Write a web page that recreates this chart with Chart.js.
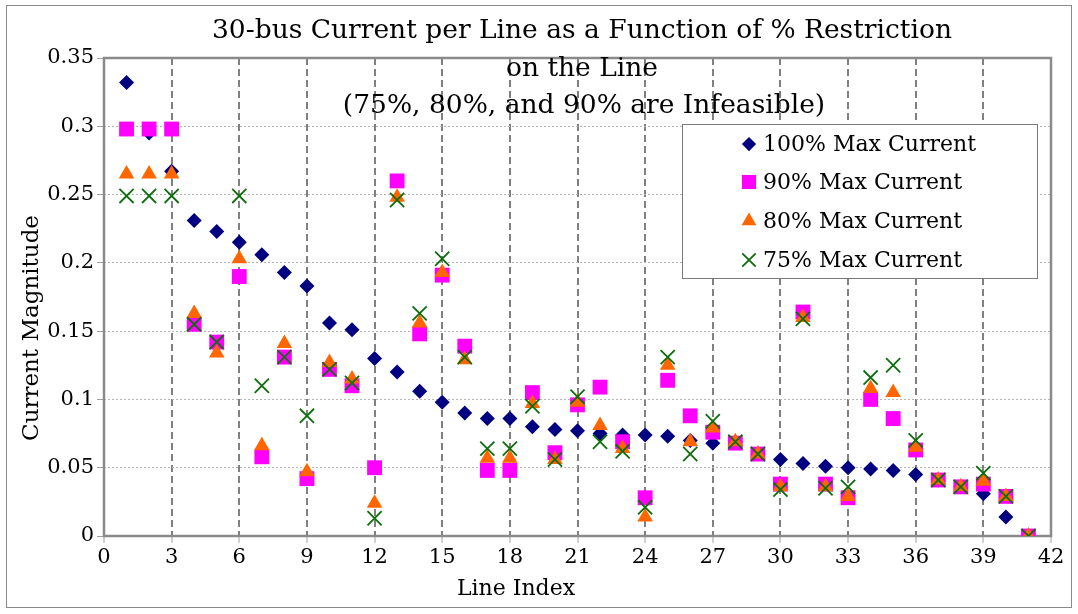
<!DOCTYPE html>
<html>
<head>
<meta charset="utf-8">
<script src="https://cdn.jsdelivr.net/npm/chart.js@4.4.1/dist/chart.umd.min.js"></script>
<style>
html, body { margin: 0; padding: 0; background: #fff; }
canvas { display: block; }
</style>
</head>
<body>
<canvas id="myChart" width="1078" height="614"></canvas>
<script>
// line index (x values)
var lineIndex = [1, 2, 3, 4, 5, 6, 7, 8, 9, 10, 11, 12, 13, 14, 15, 16, 17, 18, 19, 20,
    21, 22, 23, 24, 25, 26, 27, 28, 29, 30, 31, 32, 33, 34, 35, 36, 37, 38, 39, 40, 41];

// current magnitude per restriction level
var max100 = [0.332, 0.295, 0.267, 0.231, 0.223, 0.215, 0.206, 0.193, 0.183, 0.156,
    0.151, 0.130, 0.120, 0.106, 0.098, 0.090, 0.086, 0.086, 0.080, 0.078,
    0.077, 0.075, 0.074, 0.074, 0.073, 0.070, 0.068, 0.069, 0.060, 0.056,
    0.053, 0.051, 0.050, 0.049, 0.048, 0.045, 0.041, 0.036, 0.031, 0.014, 0.000];
var max90 = [0.298, 0.298, 0.298, 0.155, 0.142, 0.190, 0.058, 0.131, 0.042, 0.122,
    0.110, 0.050, 0.260, 0.148, 0.191, 0.139, 0.048, 0.048, 0.105, 0.061,
    0.096, 0.109, 0.069, 0.028, 0.114, 0.088, 0.076, 0.068, 0.060, 0.038,
    0.164, 0.038, 0.028, 0.100, 0.086, 0.063, 0.041, 0.036, 0.038, 0.029, 0.000];
var max80 = [0.265, 0.265, 0.265, 0.163, 0.134, 0.203, 0.066, 0.141, 0.047, 0.127,
    0.115, 0.024, 0.248, 0.156, 0.193, 0.129, 0.057, 0.057, 0.097, 0.056,
    0.098, 0.081, 0.064, 0.014, 0.125, 0.069, 0.079, 0.069, 0.060, 0.036,
    0.160, 0.036, 0.029, 0.108, 0.105, 0.065, 0.041, 0.036, 0.040, 0.029, 0.000];
var max75 = [0.249, 0.249, 0.249, 0.155, 0.142, 0.249, 0.110, 0.131, 0.088, 0.122,
    0.112, 0.013, 0.246, 0.163, 0.203, 0.131, 0.064, 0.064, 0.095, 0.056,
    0.102, 0.069, 0.062, 0.021, 0.131, 0.060, 0.084, 0.069, 0.060, 0.034,
    0.159, 0.035, 0.036, 0.116, 0.125, 0.070, 0.041, 0.036, 0.046, 0.029, 0.000];

var seriesNames = ['100% Max Current', '90% Max Current', '80% Max Current', '75% Max Current'];
var titleLines = ['30-bus Current per Line as a Function of % Restriction', 'on the Line',
    '(75%, 80%, and 90% are Infeasible)'];
var yTickLabels = ['0', '0.05', '0.1', '0.15', '0.2', '0.25', '0.3', '0.35'];

var serif = "'DejaVu Serif', serif";

function points(vals) {
    return lineIndex.map(function (x, i) { return { x: x, y: vals[i] }; });
}

var styles = [
    { pointStyle: 'rectRot', color: '#000080', radius: 7.5, border: 0 },
    { pointStyle: 'rect', color: '#FF00FF', radius: 10.5, border: 0 },
    { pointStyle: 'triangle', color: '#FF6600', radius: 9, border: 0 },
    { pointStyle: 'crossRot', color: '#0B6E0B', radius: 10, border: 1.8 }
];

var datasets = [max100, max90, max80, max75].map(function (vals, i) {
    var s = styles[i];
    return {
        label: seriesNames[i],
        data: points(vals),
        pointStyle: s.pointStyle,
        pointRadius: s.radius,
        pointHoverRadius: s.radius,
        backgroundColor: s.color,
        borderColor: s.color,
        borderWidth: s.border,
        order: 4 - i
    };
});

// frame, titles and the boxed legend like the original
var decor = {
    id: 'decor',
    beforeDatasetsDraw: function (chart) {
        var a = chart.chartArea, ctx = chart.ctx;
        ctx.save();
        ctx.strokeStyle = '#8a8a8a';
        ctx.lineWidth = 2.5;
        ctx.strokeRect(a.left, a.top, a.right - a.left, a.bottom - a.top);
        ctx.restore();
    },
    afterDraw: function (chart) {
        var ctx = chart.ctx;
        ctx.save();
        // outer border
        ctx.strokeStyle = '#8a8a8a';
        ctx.lineWidth = 1;
        ctx.strokeRect(6.5, 5.5, 1065, 602);

        ctx.fillStyle = '#000';
        ctx.textAlign = 'center';
        ctx.textBaseline = 'middle';
        ctx.font = '26.5px ' + serif;
        ctx.fillText(titleLines[0], 582, 31);
        ctx.fillText(titleLines[1], 582, 69);
        ctx.fillText(titleLines[2], 584, 106);

        ctx.font = '22px ' + serif;
        ctx.fillText('Line Index', 516, 589);
        ctx.save();
        ctx.translate(32, 328);
        ctx.rotate(-Math.PI / 2);
        ctx.font = '23px ' + serif;
        ctx.fillText('Current Magnitude', 0, 0);
        ctx.restore();

        // legend
        ctx.fillStyle = '#fff';
        ctx.fillRect(682, 124, 355, 154);
        ctx.strokeStyle = '#7a7a7a';
        ctx.lineWidth = 1;
        ctx.strokeRect(682.5, 124.5, 355, 154);
        var rows = [144, 182, 221, 260];
        ctx.textAlign = 'left';
        ctx.font = '22px ' + serif;
        datasets.forEach(function (d, i) {
            var s = styles[i];
            ctx.fillStyle = s.color;
            ctx.strokeStyle = s.color;
            ctx.lineWidth = s.border || 1;
            Chart.helpers.drawPoint(ctx, {
                pointStyle: s.pointStyle,
                radius: s.radius * 0.95,
                rotation: 0,
                borderWidth: s.border
            }, 749, rows[i]);
            ctx.fillStyle = '#000';
            ctx.fillText(d.label, 763, rows[i] + 1);
        });
        ctx.restore();
    }
};

var ctx = document.getElementById('myChart').getContext('2d');
var myChart = new Chart(ctx, {
    type: 'scatter',
    data: { datasets: datasets },
    options: {
        responsive: false,
        animation: false,
        events: [],
        layout: { padding: { top: 58, right: 27, left: 0, bottom: 0 } },
        plugins: {
            legend: { display: false },
            title: { display: false },
            tooltip: { enabled: false }
        },
        scales: {
            x: {
                type: 'linear',
                min: 0,
                max: 42,
                afterFit: function (s) { s.height = 78; },
                ticks: {
                    stepSize: 3,
                    color: '#000',
                    padding: 2,
                    font: { family: serif, size: 21 }
                },
                grid: {
                    color: '#808080',
                    lineWidth: 2,
                    tickLength: 7,
                    tickColor: '#a0a0a0',
                    tickWidth: 1,
                    tickBorderDash: []
                },
                border: { display: false, dash: [7, 4] }
            },
            y: {
                min: 0,
                max: 0.35,
                afterFit: function (s) { s.width = 104; },
                ticks: {
                    stepSize: 0.05,
                    color: '#000',
                    padding: 3,
                    font: { family: serif, size: 21 },
                    callback: function (v, i) { return yTickLabels[i]; }
                },
                grid: {
                    color: '#b4b4b4',
                    lineWidth: 1,
                    tickLength: 7,
                    tickColor: '#a0a0a0',
                    tickBorderDash: []
                },
                border: { display: false, dash: [2, 2] }
            }
        }
    },
    plugins: [decor]
});
</script>
</body>
</html>
